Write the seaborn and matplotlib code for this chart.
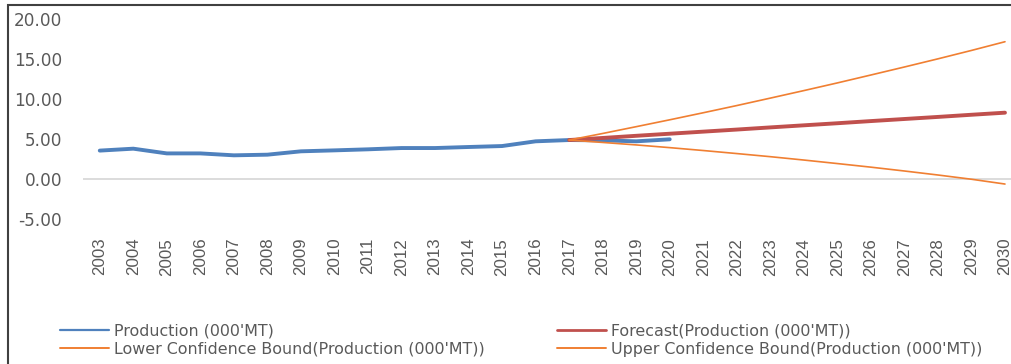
import matplotlib
matplotlib.use("Agg")
import matplotlib.pyplot as plt
import matplotlib.patches as mpatches
from matplotlib.lines import Line2D
import seaborn as sns

# chart data
years = [2003, 2004, 2005, 2006, 2007, 2008, 2009, 2010, 2011, 2012, 2013, 2014,
         2015, 2016, 2017, 2018, 2019, 2020, 2021, 2022, 2023, 2024, 2025, 2026,
         2027, 2028, 2029, 2030]
prod_years = years[:18]
production = [3.55, 3.79, 3.20, 3.20, 2.96, 3.04, 3.46, 3.58, 3.71, 3.87, 3.87,
              4.00, 4.12, 4.71, 4.87, 4.83, 4.71, 4.96]
fc_years = years[14:]
forecast = [4.87, 5.13, 5.40, 5.66, 5.92, 6.18, 6.45, 6.71, 6.97, 7.24, 7.50,
            7.76, 8.03, 8.29]
upper = [4.87, 5.69, 6.54, 7.40, 8.28, 9.18, 10.11, 11.05, 12.01, 13.00, 14.00,
         15.02, 16.07, 17.16]
lower = [4.87, 4.57, 4.26, 3.92, 3.56, 3.18, 2.79, 2.37, 1.93, 1.48, 1.00,
         0.50, -0.03, -0.63]

labels = ["Production (000'MT)", "Forecast(Production (000'MT))",
          "Lower Confidence Bound(Production (000'MT))",
          "Upper Confidence Bound(Production (000'MT))"]
colors = ['#4F81BD', '#C0504D', '#F07F32', '#F07F32']
text_color = '#595959'

sns.set_style('white')
plt.rcParams['font.family'] = ['DejaVu Sans']

W, H = 1012, 364
fig = plt.figure(figsize=(W / 100, H / 100), dpi=100)
ax = fig.add_axes([83 / W, 1 - 219 / H, (W - 83) / W, 200 / H])

sns.lineplot(x=prod_years, y=production, ax=ax, color=colors[0], lw=2.8,
             solid_capstyle='round')
sns.lineplot(x=fc_years, y=forecast, ax=ax, color=colors[1], lw=2.8,
             solid_capstyle='round')
sns.lineplot(x=fc_years, y=lower, ax=ax, color=colors[2], lw=1.2)
sns.lineplot(x=fc_years, y=upper, ax=ax, color=colors[3], lw=1.2)

ax.axhline(0, color='#D9D9D9', lw=1.3, zorder=0)

ax.set_xlim(2002.5, 2030 + 7 / 33.44)
ax.set_ylim(-5, 20)
yticks = [-5, 0, 5, 10, 15, 20]
ax.set_yticks(yticks)
ax.set_yticklabels([f'{v:.2f}' for v in yticks], fontsize=12.2,
                   color=text_color)
ax.set_xticks(years)
ax.set_xticklabels([str(y) for y in years], rotation=90, fontsize=12.2,
                   color=text_color,
                   family=['Liberation Sans Narrow', 'Liberation Sans'])
ax.tick_params(axis='y', length=0, pad=15)
ax.tick_params(axis='x', length=0, pad=13.5)
ax.set_xlabel('')
ax.set_ylabel('')
sns.despine(ax=ax, left=True, bottom=True)

# legend in two columns, placed like the original
leg_handles = [Line2D([], [], color=colors[0], lw=1.6),
               Line2D([], [], color=colors[1], lw=2.0),
               Line2D([], [], color=colors[2], lw=1.4),
               Line2D([], [], color=colors[3], lw=1.4)]
leg_kw = dict(frameon=False, fontsize=11.4, handlelength=3.1, handletextpad=0.3,
              labelspacing=0.17, labelcolor=text_color, borderpad=0,
              borderaxespad=0, loc='upper left')
fig.legend([leg_handles[0], leg_handles[2]], [labels[0], labels[2]],
           bbox_to_anchor=(60 / W, 1 - 324 / H), **leg_kw)
fig.legend([leg_handles[1], leg_handles[3]], [labels[1], labels[3]],
           bbox_to_anchor=(557 / W, 1 - 324 / H), **leg_kw)

# chart area border (only left and top edges fall inside the picture)
fig.patches.append(mpatches.Rectangle((8 / W, -0.5), 2, 0.5 + 1 - 5 / H,
                                      transform=fig.transFigure, fill=False,
                                      edgecolor='#404040', lw=1.5))

fig.savefig('out.png', dpi=100)
